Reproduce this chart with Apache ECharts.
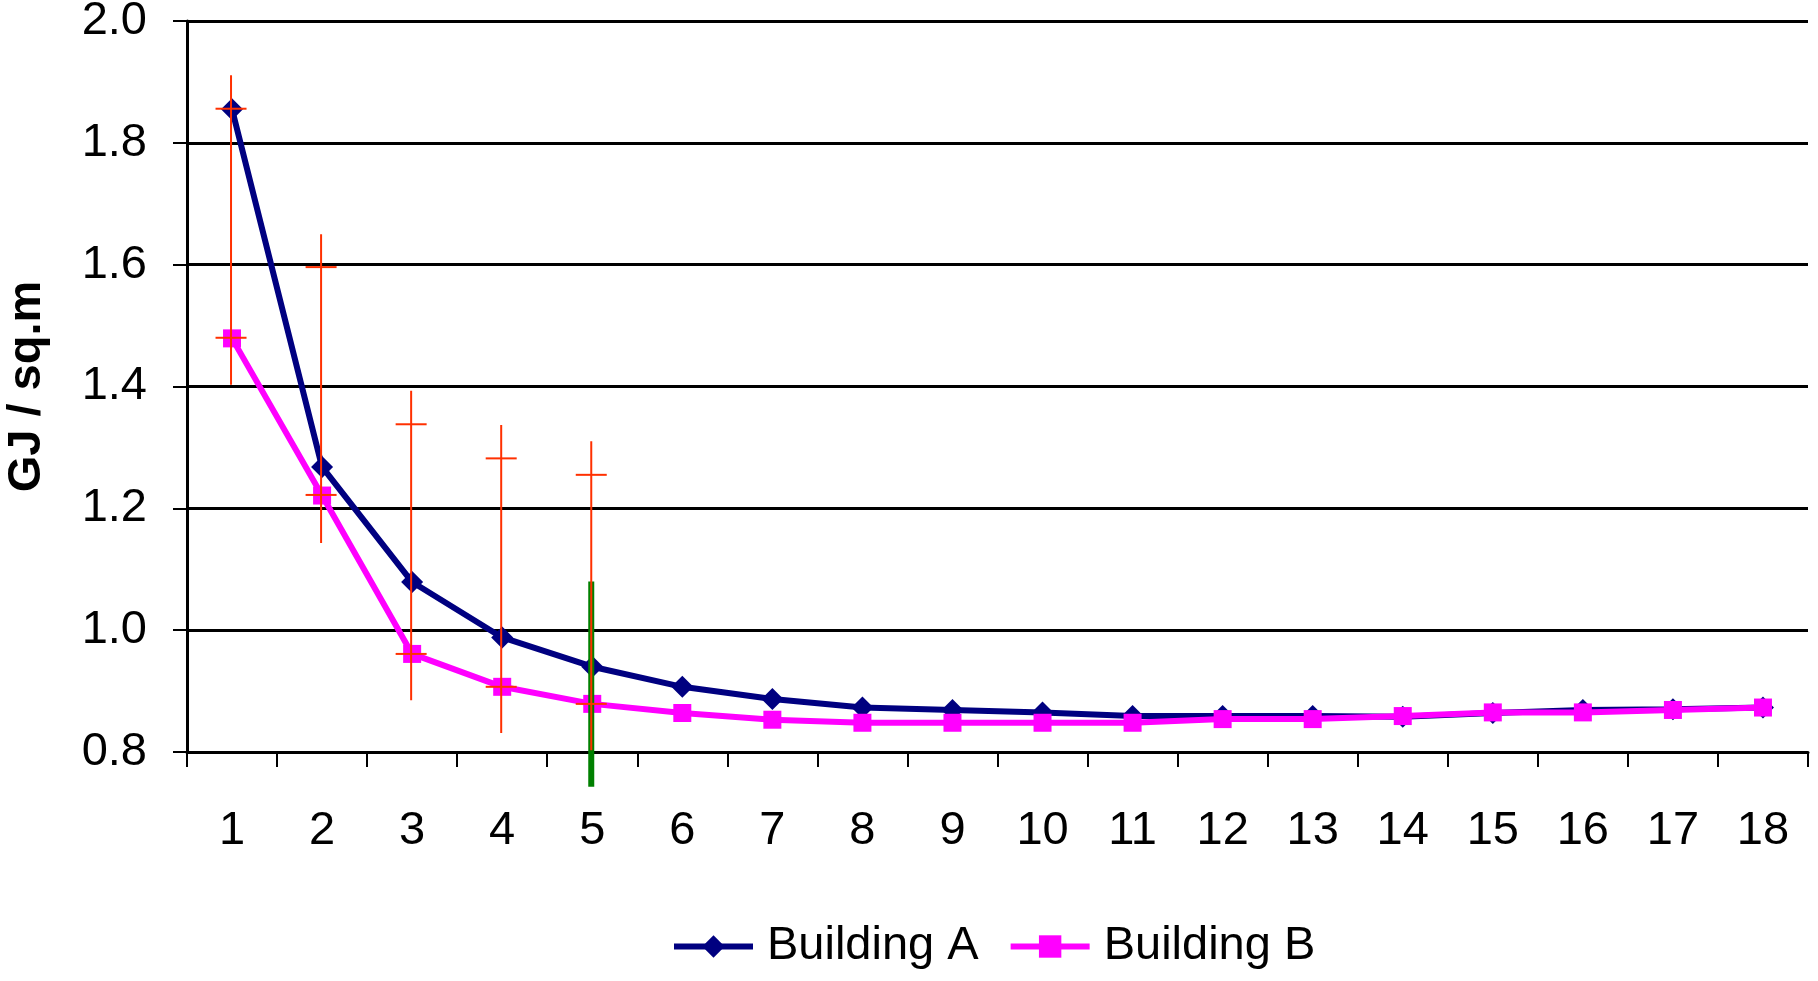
<!DOCTYPE html>
<html>
<head>
<meta charset="utf-8">
<script src="https://cdn.jsdelivr.net/npm/echarts@6/dist/echarts.min.js"></script>
<style>
html,body{margin:0;padding:0;background:#fff;}
#chart{width:1818px;height:981px;}
</style>
</head>
<body>
<div id="chart"></div>
<script>
var categories = ['1','2','3','4','5','6','7','8','9','10','11','12','13','14','15','16','17','18'];
var buildingA = [1.855, 1.268, 1.079, 0.988, 0.940, 0.907, 0.887, 0.873, 0.869, 0.865, 0.859, 0.859, 0.859, 0.858, 0.864, 0.869, 0.870, 0.873];
var buildingB = [1.479, 1.221, 0.961, 0.907, 0.879, 0.864, 0.853, 0.848, 0.848, 0.848, 0.848, 0.854, 0.854, 0.859, 0.865, 0.865, 0.869, 0.873];
// red range marks for categories 1..5: low, high, upper tick, lower tick
var errCats = [0, 1, 2, 3, 4];
var errLow = [1.403, 1.143, 0.885, 0.831, 0.803];
var errHigh = [1.911, 1.650, 1.393, 1.337, 1.310];
var errTickUpper = [1.856, 1.596, 1.338, 1.282, 1.255];
var errTickLower = [1.480, 1.222, 0.961, 0.907, 0.879];
// green marker line at category 5
var greenCat = 4;
var greenTop = 1.08;
var greenBottom = 0.743;
var yTicks = {min: 0.8, max: 2.0, interval: 0.2};

var FONT = "'Liberation Sans', Arial, sans-serif";
var chart = echarts.init(document.getElementById('chart'), null, {renderer: 'canvas'});

var errData = errCats.map(function (c, i) {
  return [c, errLow[i], errHigh[i], errTickUpper[i], errTickLower[i]];
});

var option = {
  animation: false,
  backgroundColor: '#fff',
  grid: {left: 187, right: 10, top: 21, bottom: 229, containLabel: false, outerBoundsMode: 'none'},
  legend: {
    data: ['Building A', 'Building B'],
    left: 671,
    top: 923,
    padding: 0,
    itemWidth: 79,
    itemHeight: 28,
    itemGap: 29,
    lineStyle: {width: 6},
    textStyle: {fontFamily: FONT, fontSize: 47, color: '#000', padding: [0, 0, 0, 9]}
  },
  xAxis: {
    type: 'category',
    data: categories,
    boundaryGap: true,
    axisLine: {lineStyle: {color: '#000', width: 3}},
    axisTick: {show: true, length: 15, lineStyle: {color: '#000', width: 2}, alignWithLabel: false},
    axisLabel: {fontFamily: FONT, fontSize: 47, color: '#000', margin: 56}
  },
  yAxis: {
    type: 'value',
    min: yTicks.min,
    max: yTicks.max,
    interval: yTicks.interval,
    name: 'GJ / sq.m',
    nameLocation: 'middle',
    nameGap: 136,
    nameTextStyle: {fontFamily: FONT, fontSize: 47, fontWeight: 'bold', color: '#000'},
    axisLine: {show: true, lineStyle: {color: '#000', width: 3}},
    axisTick: {show: true, length: 14, lineStyle: {color: '#000', width: 2}},
    axisLabel: {fontFamily: FONT, fontSize: 47, color: '#000', margin: 40,
      formatter: function (v) { return v.toFixed(1); }},
    splitLine: {show: true, lineStyle: {color: '#000', width: 3}}
  },
  series: [
    {
      name: 'Building A',
      type: 'line',
      data: buildingA,
      symbol: 'diamond',
      symbolSize: [22, 22],
      lineStyle: {color: '#000080', width: 6},
      itemStyle: {color: '#000080'},
      z: 3
    },
    {
      name: 'Building B',
      type: 'line',
      data: buildingB,
      symbol: 'rect',
      symbolSize: 18,
      lineStyle: {color: '#FF00FF', width: 6},
      itemStyle: {color: '#FF00FF'},
      z: 4
    },
    {
      name: 'marker',
      type: 'custom',
      data: [[greenCat, greenTop, greenBottom]],
      z: 5,
      clip: false,
      renderItem: function (params, api) {
        var c = api.value(0);
        var t = api.coord([c, api.value(1)]);
        var b = api.coord([c, api.value(2)]);
        return {
          type: 'line',
          shape: {x1: t[0] - 1, y1: t[1], x2: b[0] - 1, y2: b[1]},
          style: {stroke: '#008000', lineWidth: 6}
        };
      }
    },
    {
      name: 'range',
      type: 'custom',
      data: errData,
      z: 6,
      clip: false,
      renderItem: function (params, api) {
        var c = api.value(0);
        var lo = api.coord([c, api.value(1)]);
        var hi = api.coord([c, api.value(2)]);
        var tu = api.coord([c, api.value(3)]);
        var tl = api.coord([c, api.value(4)]);
        var hw = 15.5;
        var x = lo[0] - 1;
        var st = {stroke: '#FF3000', lineWidth: 2};
        return {
          type: 'group',
          children: [
            {type: 'line', shape: {x1: x, y1: lo[1], x2: x, y2: hi[1]}, style: st},
            {type: 'line', shape: {x1: x - hw, y1: tu[1], x2: x + hw, y2: tu[1]}, style: st},
            {type: 'line', shape: {x1: x - hw, y1: tl[1], x2: x + hw, y2: tl[1]}, style: st}
          ]
        };
      }
    }
  ]
};
chart.setOption(option);
</script>
</body>
</html>
